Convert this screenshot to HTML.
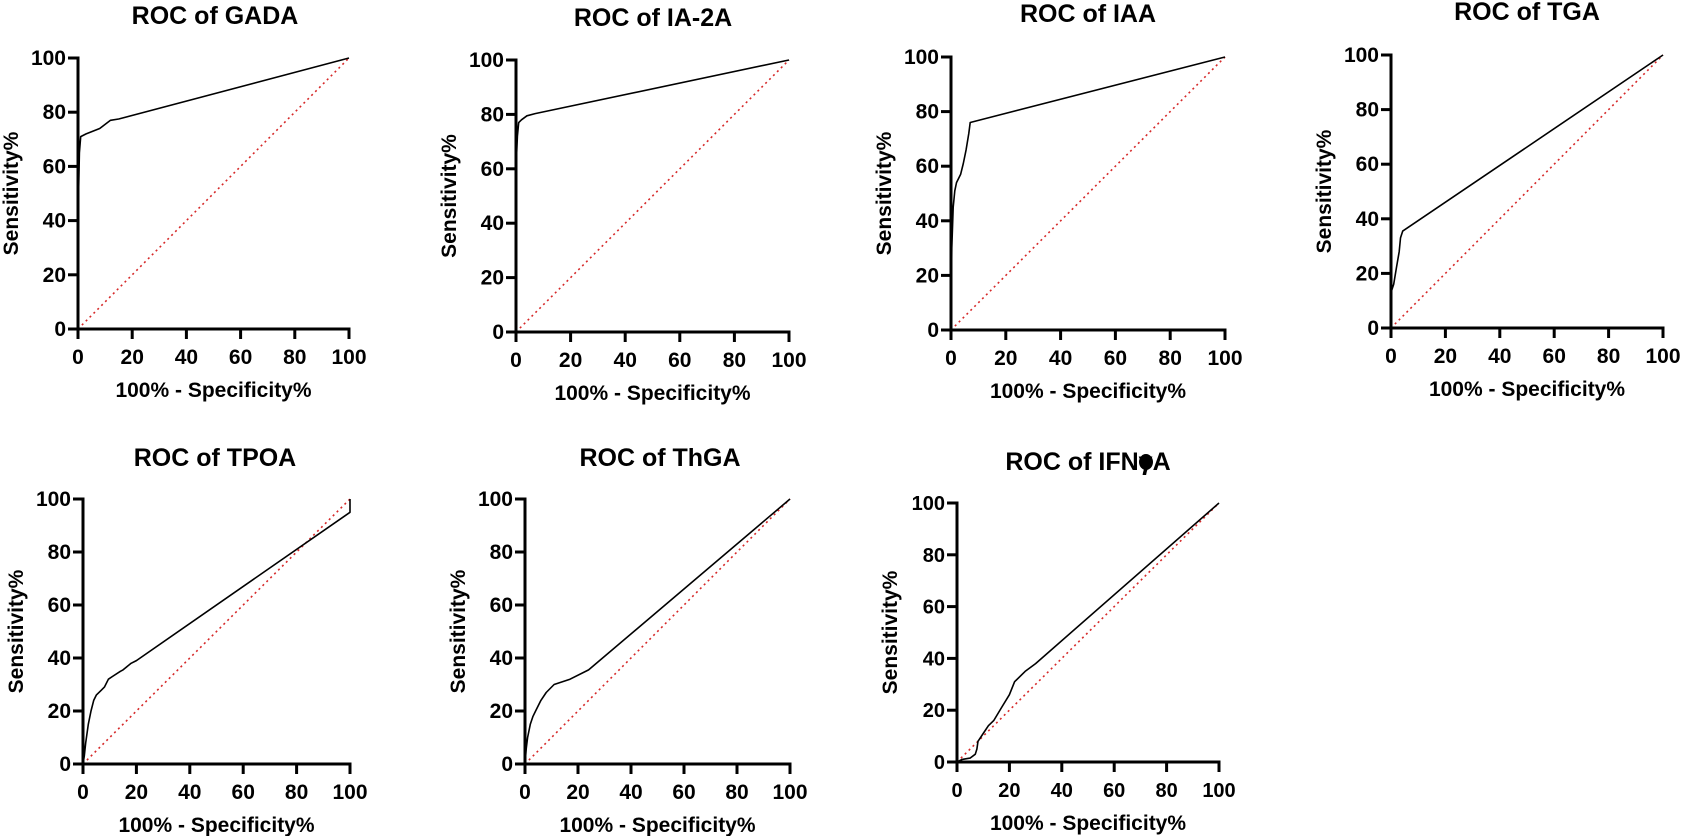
<!DOCTYPE html>
<html><head><meta charset="utf-8"><style>
html,body{margin:0;padding:0;background:#fff;}
svg{display:block;font-family:"Liberation Sans",Arial,sans-serif;}
</style></head>
<body>
<svg id="fig" width="1681" height="836" viewBox="0 0 1681 836"></svg>
<script>
// Chart data (x = 100% - Specificity%, y = Sensitivity%)
const titles = ["ROC of GADA","ROC of IA-2A","ROC of IAA","ROC of TGA","ROC of TPOA","ROC of ThGA","ROC of IFNγA"];
const gadaX = [0,0,0.5,1,3,8,10,12,15,100];
const gadaY = [0,40,65,71,72,74,75.5,77,77.5,100];
const ia2aX = [0,0,0.5,1,2,4,7,100];
const ia2aY = [0,60,72,77,78,79.5,80.3,100];
const iaaX = [0,0.3,0.8,1.4,2,3.5,4.5,5.5,6.5,7,100];
const iaaY = [0,30,45,51,54,57,61,66,72,76,100];
const tgaX = [0,0,1,2,3,3.5,4.3,100];
const tgaY = [0,13,16,22,28,33,35.5,100];
const tpoaX = [0,0.5,1,2,3,4,5,7,8,9.5,11,14,15,18,20,100,100];
const tpoaY = [0,3,8,15,20,24,26,28,29,32,33,35,35.5,38,39,95,100];
const thgaX = [0,0.5,1,2,3,4,6,8,11,17,24,100];
const thgaY = [0,6,10,15,18,20,24,27,30,32,35.5,100];
const ifnX = [0,2,5,7,7.6,8,10,12,14,17,20,22,26,30,100];
const ifnY = [0,1,1.5,3,5,8,11,14,16,21,26,31,35,38,100];
const tickVals = [0,20,40,60,80,100];
const xTitle = "100% - Specificity%";
const yTitle = "Sensitivity%";

const seriesX = [gadaX,ia2aX,iaaX,tgaX,tpoaX,thgaX,ifnX];
const seriesY = [gadaY,ia2aY,iaaY,tgaY,tpoaY,thgaY,ifnY];
const names = ["gada","ia2a","iaa","tga","tpoa","thga","ifng"];
// panel layout: axis left, axis right, y top(100), y bottom(0), title center x, title y
const layout = [
 [78,349,58,329,215,24],
 [516,789,60,332,653,26],
 [951,1225,57,330,1088,22],
 [1391,1663,55,328,1527,20],
 [83,350,499,764,215,466],
 [525,790,499,764,660,466],
 [957,1219,503,762,1088,470]
];
const NS="http://www.w3.org/2000/svg";
const svg=document.getElementById('fig');
function mk(tag,attrs,parent){const e=document.createElementNS(NS,tag);for(const k in attrs)e.setAttribute(k,attrs[k]);(parent||svg).appendChild(e);return e;}

layout.forEach((L,i)=>{
  const [x0,x1,yT,y0,tcx,ty]=L;
  const sx=v=>x0+(x1-x0)*v/100;
  const sy=v=>y0-(y0-yT)*v/100;
  const g=mk('g',{});
  
  
  const fs = i===6?20:21;
  const t=mk('text',{x:tcx,y:ty,'text-anchor':'middle','font-size':25,'font-weight':'bold',fill:'#000'},g);
  t.textContent=titles[i];
  
  
  if(i===6){
    const b=mk('ellipse',{cx:tcx+58,cy:ty-8,rx:7,ry:8,fill:'#000'},g);
    
    
  }
  const d=mk('line',{x1:sx(0),y1:sy(0),x2:sx(100),y2:sy(100),stroke:'#d62a2a','stroke-width':1.6,'stroke-dasharray':'2,3.5'},g);
  
  
  const xs=seriesX[i], ys=seriesY[i];
  const pts=xs.map((v,k)=>sx(v).toFixed(1)+','+sy(ys[k]).toFixed(1)).join(' ');
  const c=mk('polyline',{points:pts,fill:'none',stroke:'#000','stroke-width':1.6,'stroke-linejoin':'round'},g);
  
  
  const ya=mk('line',{x1:x0,y1:yT-1.5,x2:x0,y2:y0+1.5,stroke:'#000','stroke-width':3},g);
  
  
  const xa=mk('line',{x1:x0-1.5,y1:y0,x2:x1+1.5,y2:y0,stroke:'#000','stroke-width':3},g);
  
  
  tickVals.forEach(v=>{
    mk('line',{x1:x0-10,y1:sy(v),x2:x0,y2:sy(v),stroke:'#000','stroke-width':3},g);
    const yl=mk('text',{x:x0-12,y:sy(v)+7,'text-anchor':'end','font-size':fs,'font-weight':'bold'},g);
    yl.textContent=v;
    
    
    mk('line',{x1:sx(v),y1:y0,x2:sx(v),y2:y0+10,stroke:'#000','stroke-width':3},g);
    const xl=mk('text',{x:sx(v),y:y0+35,'text-anchor':'middle','font-size':fs,'font-weight':'bold'},g);
    xl.textContent=v;
    
    
  });
  const xt=mk('text',{x:(x0+x1)/2,y:y0+68,'text-anchor':'middle','font-size':21,'font-weight':'bold'},g);
  xt.textContent=xTitle;
  
  
  const ycx=x0-60, ycy=(yT+y0)/2;
  const yt=mk('text',{x:ycx,y:ycy,'text-anchor':'middle','font-size':21,'font-weight':'bold',transform:'rotate(-90 '+ycx+' '+ycy+')'},g);
  yt.textContent=yTitle;
  
  
});
</script>
</body></html>
